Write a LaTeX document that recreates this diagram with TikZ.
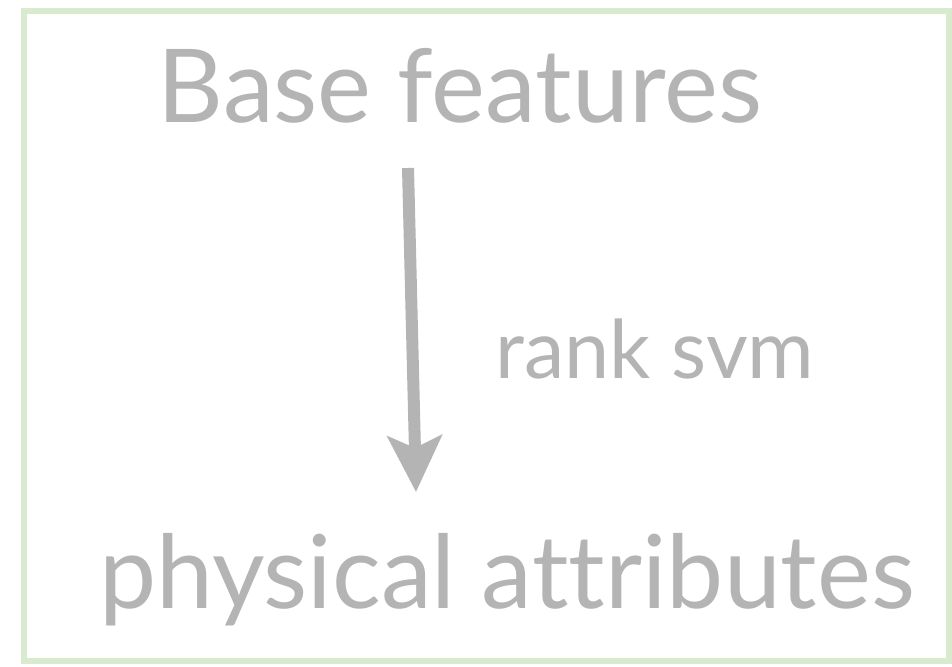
\documentclass[tikz,border=0pt]{standalone}
\usepackage{fontspec}
\setmainfont{Lato}[Ligatures=NoCommon]
\usetikzlibrary{arrows.meta}

\definecolor{rampa}{HTML}{D9EBCF}
\definecolor{popis}{HTML}{B4B4B4}

\begin{document}
\begin{tikzpicture}[x=1pt,y=-1pt,
        velky/.style={text=popis, inner sep=0pt, anchor=base, font=\fontsize{102}{108}\selectfont},
        maly/.style={text=popis, inner sep=0pt, anchor=base, font=\fontsize{81}{87}\selectfont}]
        \useasboundingbox (0,0) rectangle (952,666);

        % ramecek
        \draw[rampa, line width=6pt] (24,11) rectangle (949,661);

        % popisky
        \node[velky] (base) at (460,123) {Base features};
        \node[maly] (rank) at (655,378) {rank svm};
        \node[velky] (attr) at (507,608) {physical attributes};

        % sipka
        \coordinate (start) at (408,168);
        \coordinate (konec) at (416,492);
        \draw[popis, line width=12pt, -{Stealth[length=56pt, width=54pt, inset=12pt]}] (start) -- (konec);

    \end{tikzpicture}
\end{document}
